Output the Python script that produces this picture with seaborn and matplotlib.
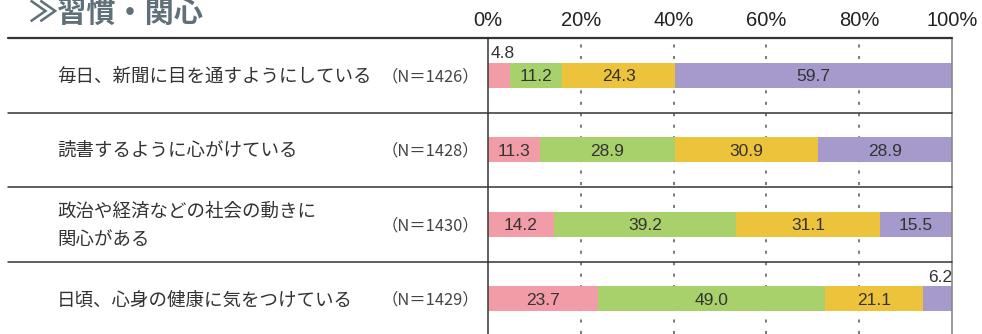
import numpy as np
import pandas as pd
import matplotlib
matplotlib.use("Agg")
import matplotlib.pyplot as plt
import matplotlib.transforms as mtransforms
import seaborn as sns

# ---- data ----
categories = ["毎日、新聞に目を通すようにしている",
              "読書するように心がけている",
              "政治や経済などの社会の動きに\n関心がある",
              "日頃、心身の健康に気をつけている"]
n_labels = ["（N＝1426）", "（N＝1428）", "（N＝1430）", "（N＝1429）"]
seg1 = [4.8, 11.3, 14.2, 23.7]
seg2 = [11.2, 28.9, 39.2, 49.0]
seg3 = [24.3, 30.9, 31.1, 21.1]
seg4 = [59.7, 28.9, 15.5, 6.2]
tick_values = [0, 20, 40, 60, 80, 100]
tick_labels = ["0%", "20%", "40%", "60%", "80%", "100%"]
title = "≫習慣・関心"

colors = ["#F19CA7", "#A9D16B", "#ECC33A", "#A59ACB"]

sns.set_theme(style="white")
plt.rcParams["font.family"] = ["Noto Sans CJK JP", "DejaVu Sans"]

W, H = 982, 334
fig = plt.figure(figsize=(W / 100, H / 100), dpi=100)
ax_left, ax_right, ax_top = 488, 952, 38
ax = fig.add_axes([ax_left / W, 0, (ax_right - ax_left) / W, (H - ax_top) / H])

segs = np.array([seg1, seg2, seg3, seg4])
cum = np.cumsum(segs, axis=0)
keys = [f"r{i}" for i in range(len(categories))]

# draw from the longest cumulative to the shortest so they stack visually
for k in range(3, -1, -1):
    df = pd.DataFrame({"key": keys, "val": cum[k]})
    sns.barplot(data=df, x="val", y="key", order=keys, color=colors[k],
                saturation=1, width=0.335, ax=ax, orient="h", linewidth=0)

row_px = 74.5
nrows = (H - ax_top) / row_px
ax.set_ylim(-0.5 + nrows, -0.5)
ax.set_xlim(0, 100)

# value labels
num_font = ["Liberation Sans", "DejaVu Sans"]
for i in range(len(categories)):
    start = 0.0
    for k in range(4):
        v = segs[k, i]
        if v < 8:
            if k == 0:
                ax.text(start + 0.6, i - 0.19, f"{v:.1f}", ha="left", va="bottom",
                        fontsize=12.5, color="#333333", family=num_font)
            else:
                ax.text(100, i - 0.19, f"{v:.1f}", ha="right", va="bottom",
                        fontsize=12.5, color="#333333", family=num_font)
        else:
            ax.text(start + v / 2, i + 0.02, f"{v:.1f}", ha="center", va="center",
                    fontsize=12.5, color="#333333", family=num_font)
        start += v

# grid lines (dotted)
for t in tick_values[1:-1]:
    ax.axvline(t, color="#555555", lw=1.1, linestyle=(0, (2, 5.5)), zorder=0)

# ticks on top
ax.xaxis.tick_top()
ax.set_xticks(tick_values)
ax.set_xticklabels(tick_labels, fontsize=14.5, color="#222222", family=num_font)
ax.tick_params(axis="x", length=0, pad=6)
ax.set_yticks([])
ax.set_xlabel("")
ax.set_ylabel("")

ax.spines["bottom"].set_visible(False)
ax.spines["top"].set_visible(False)
ax.spines["left"].set_color("#444444")
ax.spines["left"].set_linewidth(1.2)
ax.spines["right"].set_color("#888888")
ax.spines["right"].set_linewidth(1.2)

# horizontal rule lines across the whole table
xmin = (8 - ax_left) / (ax_right - ax_left)
ax.axhline(-0.5, xmin=xmin, xmax=1, color="#333333", lw=1.6, clip_on=False, zorder=5)
for b in range(len(categories) - 1):
    ax.axhline(b + 0.5, xmin=xmin, xmax=1, color="#333333", lw=1.1, clip_on=False, zorder=5)

# row labels and N labels
trans = mtransforms.blended_transform_factory(fig.transFigure, ax.transData)
for i, (c, n) in enumerate(zip(categories, n_labels)):
    ax.text(57 / W, i + 0.02, c, transform=trans, ha="left", va="center",
            fontsize=13.3, color="#333333", linespacing=1.75)
    ax.text(479 / W, i + 0.02, n, transform=trans, ha="right", va="center",
            fontsize=11.8, color="#444444")

fig.text(28 / W, 1 - 22 / H, title, fontsize=21, fontweight="bold",
         color="#607078", ha="left", va="baseline")

fig.savefig("out.png", dpi=100)
